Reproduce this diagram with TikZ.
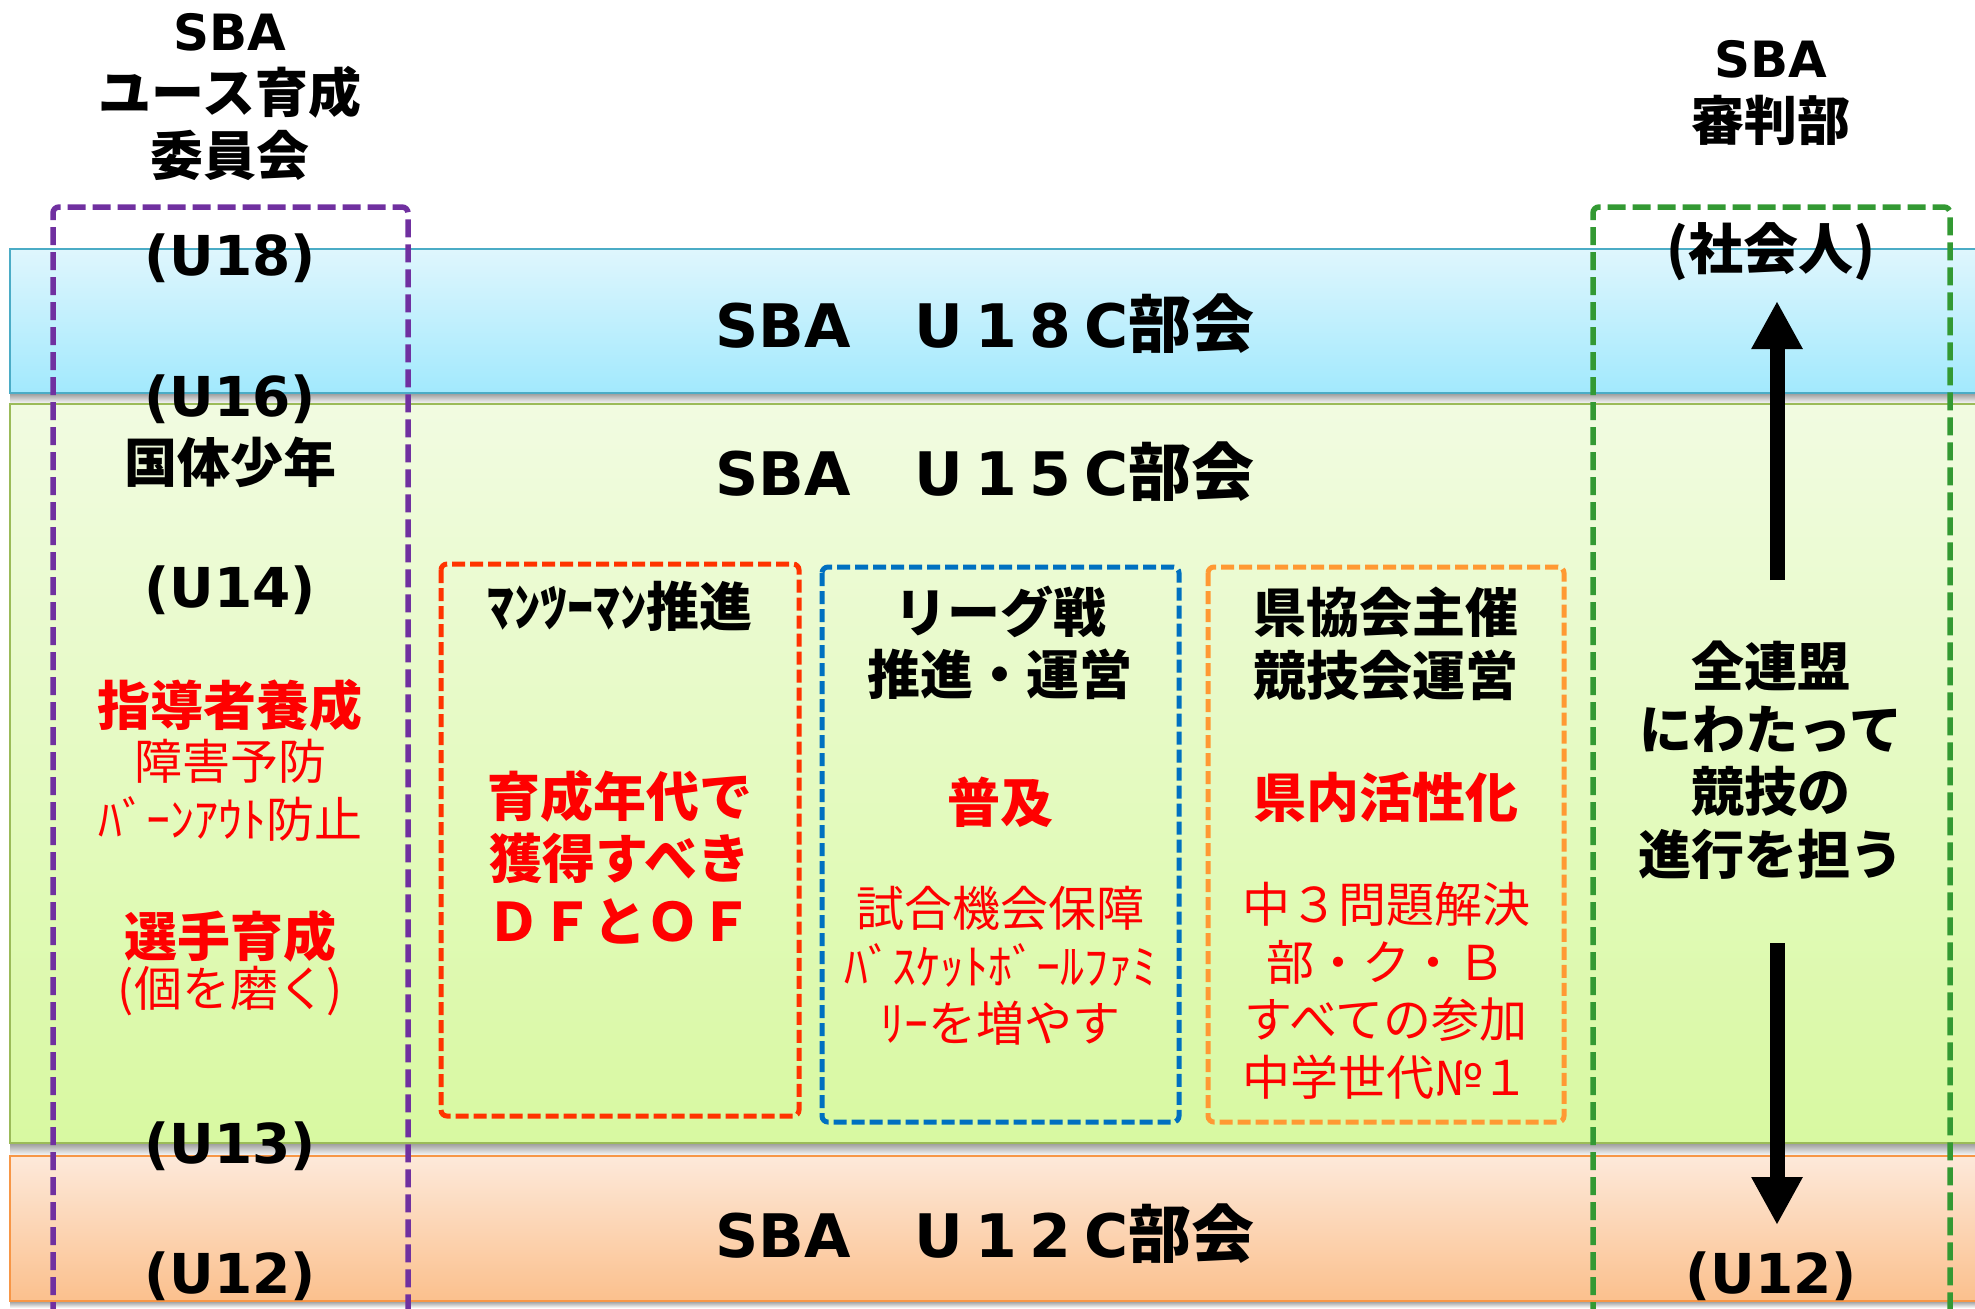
\documentclass[tikz,border=0pt]{standalone}
\usepackage{fontspec}
\setmainfont{Noto Sans CJK JP}[BoldFont={Noto Sans CJK JP Black}]
\newfontfamily\latinfont{DejaVu Sans}
\usetikzlibrary{arrows.meta}

\definecolor{edgeblue}{HTML}{4BACC6}
\definecolor{edgegreen}{HTML}{9BBB59}
\definecolor{edgeorange}{HTML}{F79646}
\definecolor{boxpurple}{HTML}{7030A0}
\definecolor{boxgreen}{HTML}{339933}
\definecolor{boxred}{HTML}{FF3300}
\definecolor{boxblue}{HTML}{0070C0}
\definecolor{boxorange}{HTML}{FF9933}

% spaced latin part of the band titles
\newcommand{\bandname}[1]{{\latinfont\fontsize{30}{36}\selectfont SBA}　{\latinfont\fontsize{30}{36}\selectfont U\kern6.3pt 1\kern6.3pt #1\kern6.3pt C}部会}

\begin{document}
\begin{tikzpicture}[x=0.5pt,y=-0.5pt,
  band/.style={line width=1pt},
  shade strip/.style={top color=black!40,bottom color=white},
  outer box/.style={line width=2.75pt,dash pattern=on 9pt off 3.5pt,rounded corners=3pt},
  inner box/.style={line width=2.5pt,dash pattern=on 6.5pt off 2.5pt,rounded corners=3pt},
  head/.style={font=\fontsize{26.5}{31.25}\selectfont\bfseries,align=center,inner sep=0pt},
  lead/.style={head,text=red},
  note/.style={font=\fontsize{24}{28.75}\selectfont,text=red,align=center,inner sep=0pt},
  age/.style={font=\fontsize{27.5}{32}\selectfont\bfseries\latinfont,inner sep=0pt},
  title/.style={font=\fontsize{31.5}{36}\selectfont\bfseries,inner sep=0pt},
  bigarrow/.style={line width=7.5pt,-{Triangle[length=24pt,width=24pt]}}]
  \useasboundingbox (0,0) rectangle (1975,1308);

  % age bands
  \shade[shade strip] (10,393) rectangle (1975,404);
  \shade[shade strip] (10,1143) rectangle (1975,1156);
  \shade[shade strip] (10,1301) rectangle (1975,1308);
  \draw[band,draw=edgeblue,top color={rgb,255:red,223;green,246;blue,253},
    bottom color={rgb,255:red,162;green,233;blue,253}] (10,249) rectangle (1990,393);
  \draw[band,draw=edgegreen,top color={rgb,255:red,241;green,251;blue,225},
    bottom color={rgb,255:red,216;green,249;blue,161}] (10,404) rectangle (1990,1143);
  \draw[band,draw=edgeorange,top color={rgb,255:red,253;green,233;blue,218},
    bottom color={rgb,255:red,251;green,192;blue,141}] (10,1156) rectangle (1990,1301);

  % committee columns
  \draw[outer box,draw=boxpurple] (53,1320) -- (53,207) -- (408,207) -- (408,1320);
  \draw[outer box,draw=boxgreen] (1593,1320) -- (1593,207) -- (1950,207) -- (1950,1320);

  % U15 activity boxes
  \draw[inner box,draw=boxred] (441,564) rectangle (799,1116);
  \draw[inner box,draw=boxblue] (822,567) rectangle (1179,1122);
  \draw[inner box,draw=boxorange] (1208,567) rectangle (1564,1122);

  \node[title] (t18) at (985,324) {\bandname{8}};
  \node[title] (t15) at (985,472) {\bandname{5}};
  \node[title] (t12) at (985,1234) {\bandname{2}};

  % youth column
  \node[head] (youthhead) at (230,97) {{\latinfont\fontsize{25}{31.25}\selectfont SBA}\\ユース育成\\委員会};
  \node[age] (u18) at (230,258) {(U18)};
  \node[age] (u16) at (230,399) {(U16)};
  \node[head] (kokutai) at (230,462) {国体少年};
  \node[age] (u14) at (230,590) {(U14)};
  \node[lead] (coach) at (230,705) {指導者養成};
  \node[note] (coachnote) at (230,790) {障害予防\\ﾊﾞｰﾝｱｳﾄ防止};
  \node[lead] (player) at (230,936) {選手育成};
  \node[note] (playernote) at (230,991) {(個を磨く)};
  \node[age] (u13) at (230,1146) {(U13)};
  \node[age] (u12) at (230,1276) {(U12)};

  % activity texts
  \node[head] (manto) at (620,606) {ﾏﾝﾂｰﾏﾝ推進};
  \node[lead] (dfof) at (620,857) {育成年代で\\獲得すべき\\ＤＦとＯＦ};
  \node[head] (league) at (1000,643) {リーグ戦\\推進・運営};
  \node[lead] (spread) at (1000,802) {普及};
  \node[note] (games) at (1000,966) {試合機会保障\\ﾊﾞｽｹｯﾄﾎﾞｰﾙﾌｧﾐ\\ﾘｰを増やす};
  \node[head] (pref) at (1386,644) {県協会主催\\競技会運営};
  \node[lead] (active) at (1386,797) {県内活性化};
  \node[note] (jhs) at (1386,991) {中３問題解決\\部・ク・Ｂ\\すべての参加\\中学世代№１};

  % referee column
  \node[head] (refhead) at (1771,93) {{\latinfont\fontsize{25}{31.25}\selectfont SBA}\\審判部};
  \node[head,font=\fontsize{27.5}{32}\selectfont\bfseries] (adult) at (1771,252) {(社会人)};
  \node[head] (role) at (1771,760) {全連盟\\にわたって\\競技の\\進行を担う};
  \node[age] (u12r) at (1771,1276) {(U12)};
  \coordinate (upfoot) at (1777,580);
  \coordinate (uptip) at (1777,301);
  \coordinate (downfoot) at (1777,943);
  \coordinate (downtip) at (1777,1225);
  \draw[bigarrow] (upfoot) -- (uptip);
  \draw[bigarrow] (downfoot) -- (downtip);
\end{tikzpicture}
\end{document}
